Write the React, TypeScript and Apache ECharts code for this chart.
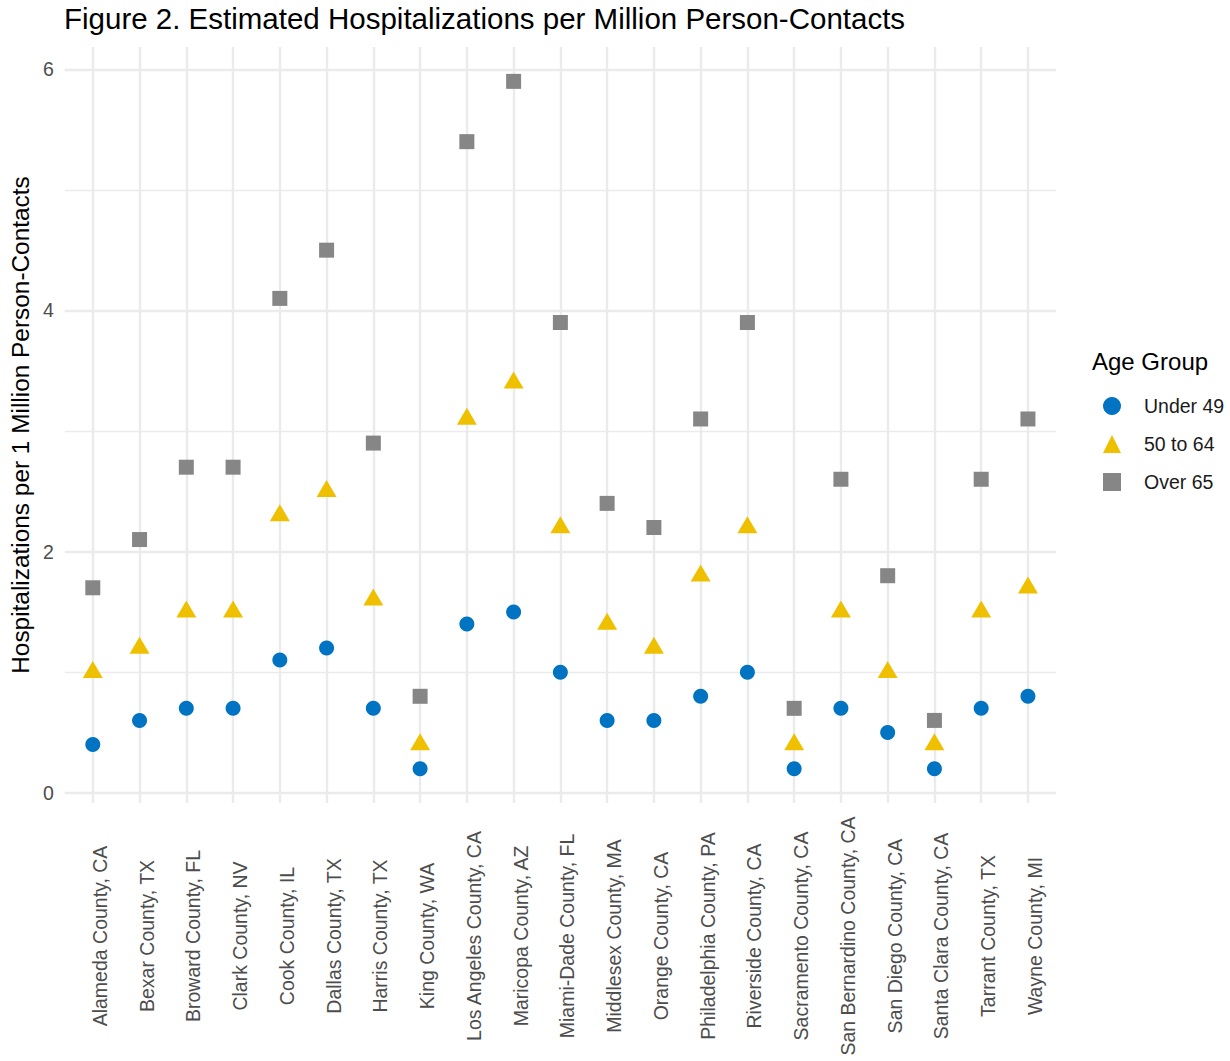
import React, { useEffect, useRef } from "react";
import * as echarts from "echarts";

const FONT = "Liberation Sans, Arial, Helvetica, sans-serif";

const categories = [
  "Alameda County, CA",
  "Bexar County, TX",
  "Broward County, FL",
  "Clark County, NV",
  "Cook County, IL",
  "Dallas County, TX",
  "Harris County, TX",
  "King County, WA",
  "Los Angeles County, CA",
  "Maricopa County, AZ",
  "Miami-Dade County, FL",
  "Middlesex County, MA",
  "Orange County, CA",
  "Philadelphia County, PA",
  "Riverside County, CA",
  "Sacramento County, CA",
  "San Bernardino County, CA",
  "San Diego County, CA",
  "Santa Clara County, CA",
  "Tarrant County, TX",
  "Wayne County, MI",
];

const under49 = [0.4, 0.6, 0.7, 0.7, 1.1, 1.2, 0.7, 0.2, 1.4, 1.5, 1.0, 0.6, 0.6, 0.8, 1.0, 0.2, 0.7, 0.5, 0.2, 0.7, 0.8];
const age50to64 = [1.0, 1.2, 1.5, 1.5, 2.3, 2.5, 1.6, 0.4, 3.1, 3.4, 2.2, 1.4, 1.2, 1.8, 2.2, 0.4, 1.5, 1.0, 0.4, 1.5, 1.7];
const over65 = [1.7, 2.1, 2.7, 2.7, 4.1, 4.5, 2.9, 0.8, 5.4, 5.9, 3.9, 2.4, 2.2, 3.1, 3.9, 0.7, 2.6, 1.8, 0.6, 2.6, 3.1];

const seriesNames = ["Under 49", "50 to 64", "Over 65"];
const yMajorTicks = [0, 2, 4, 6];
const yMinorTicks = [1, 3, 5];

const COLORS = ["#0073C2", "#EFC000", "#868686"];
const GRID_COLOR = "#EBEBEB";

export default function App() {
  const ref = useRef<HTMLDivElement>(null);

  useEffect(() => {
    const chart = echarts.init(ref.current as HTMLDivElement, null, { renderer: "svg" });

    const gridLines = [
      ...yMajorTicks.map((v) => ({ yAxis: v, lineStyle: { color: GRID_COLOR, width: 2.4, type: "solid" } })),
      ...yMinorTicks.map((v) => ({ yAxis: v, lineStyle: { color: GRID_COLOR, width: 1.3, type: "solid" } })),
      ...categories.map((_, i) => ({ xAxis: i, lineStyle: { color: GRID_COLOR, width: 2.4, type: "solid" } })),
    ];

    const option: any = {
      animation: false,
      backgroundColor: "#ffffff",
      textStyle: { fontFamily: FONT },
      title: [
        {
          text: "Figure 2. Estimated Hospitalizations per Million Person-Contacts",
          left: 64,
          top: 3,
          padding: 0,
          textStyle: { fontSize: 29.5, fontWeight: "normal", color: "#000000", fontFamily: FONT },
        },
        {
          text: "Age Group",
          left: 1092,
          top: 349,
          padding: 0,
          textStyle: { fontSize: 24, fontWeight: "normal", color: "#000000", fontFamily: FONT },
        },
      ],
      legend: {
        data: seriesNames,
        orient: "vertical",
        left: 1103,
        top: 396,
        padding: 0,
        itemWidth: 18,
        itemHeight: 18,
        itemGap: 18,
        selectedMode: false,
        textStyle: { fontSize: 19.5, color: "#1a1a1a", fontFamily: FONT, padding: [0, 0, 0, 18] },
      },
      grid: { left: 64, right: 174, top: 47, bottom: 258 },
      xAxis: {
        type: "value",
        min: -0.6,
        max: categories.length - 1 + 0.6,
        axisLine: { show: false },
        axisTick: { show: false },
        splitLine: { show: false },
        axisLabel: {
          customValues: categories.map((_, i) => i),
          formatter: (v: number) => categories[Math.round(v)] ?? "",
          rotate: 90,
          align: "center",
          verticalAlign: "top",
          lineHeight: 14,
          margin: 133,
          fontSize: 19.5,
          color: "#4D4D4D",
          fontFamily: FONT,
        },
      },
      yAxis: {
        type: "value",
        min: -0.085,
        max: 6.185,
        name: "Hospitalizations per 1 Million Person-Contacts",
        nameLocation: "middle",
        nameGap: 28,
        nameTextStyle: { fontSize: 24.4, color: "#000000", fontFamily: FONT },
        axisLine: { show: false },
        axisTick: { show: false },
        splitLine: { show: false },
        axisLabel: {
          customValues: yMajorTicks,
          margin: 11,
          fontSize: 19.5,
          color: "#4D4D4D",
          fontFamily: FONT,
        },
      },
      series: [
        {
          type: "scatter",
          name: "gridlines",
          data: [],
          silent: true,
          z: 0,
          markLine: {
            silent: true,
            z: 0,
            animation: false,
            symbol: ["none", "none"],
            label: { show: false },
            emphasis: { disabled: true },
            data: gridLines,
          },
        },
        {
          type: "scatter",
          name: seriesNames[0],
          data: under49.map((v, i) => [i, v]),
          symbol: "circle",
          symbolSize: 15,
          itemStyle: { color: COLORS[0], opacity: 1 },
          emphasis: { disabled: true },
          z: 3,
        },
        {
          type: "scatter",
          name: seriesNames[1],
          data: age50to64.map((v, i) => [i, v]),
          symbol: "triangle",
          symbolSize: [20, 17],
          symbolOffset: [0, -2.8],
          itemStyle: { color: COLORS[1], opacity: 1 },
          emphasis: { disabled: true },
          z: 3,
        },
        {
          type: "scatter",
          name: seriesNames[2],
          data: over65.map((v, i) => [i, v]),
          symbol: "rect",
          symbolSize: 15,
          itemStyle: { color: COLORS[2], opacity: 1 },
          emphasis: { disabled: true },
          z: 3,
        },
      ],
    };

    chart.setOption(option);
    return () => chart.dispose();
  }, []);

  return (
    <div
      ref={ref}
      style={{ position: "fixed", left: 0, top: 0, width: 1230, height: 1061, background: "#ffffff" }}
    />
  );
}
